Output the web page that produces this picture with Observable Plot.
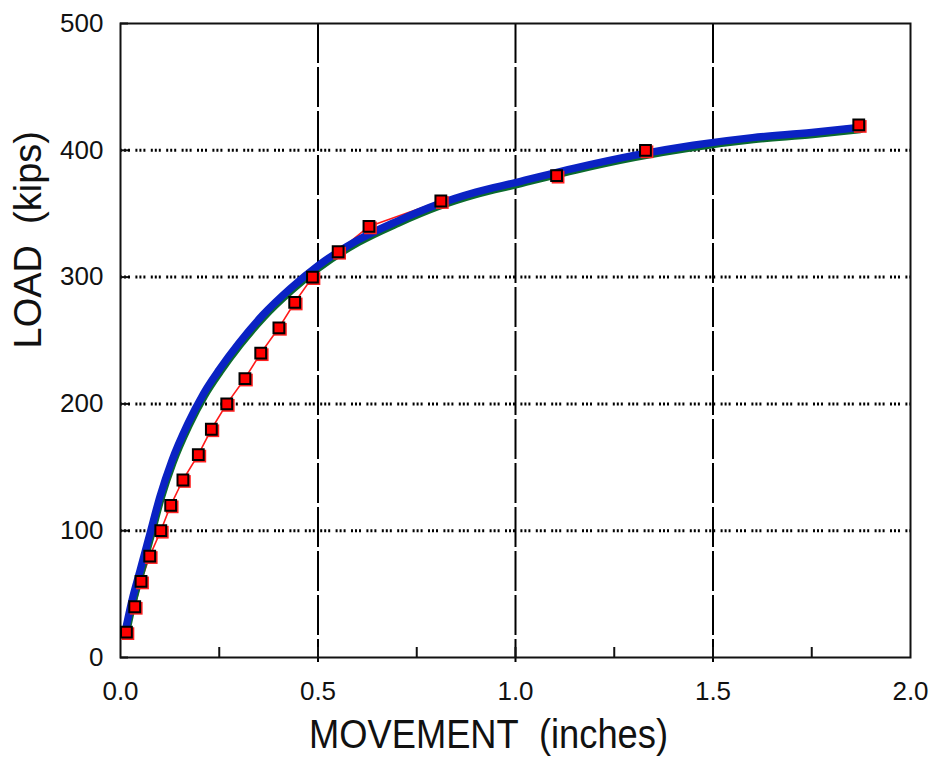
<!DOCTYPE html>
<html><head><meta charset="utf-8">
<script src="https://cdn.jsdelivr.net/npm/d3@7"></script>
<script src="https://cdn.jsdelivr.net/npm/@observablehq/plot@0.6"></script>
<style>body{margin:0;background:#fff}</style>
</head><body><div id="chart"></div>
<script>
// Measured load test (red squares)
const testMove = [0.015,0.036,0.052,0.074,0.102,0.127,0.158,0.197,0.230,0.269,0.315,0.355,0.401,0.441,0.486,0.551,0.629,0.811,1.104,1.329,1.869];
const testLoad = [20,40,60,80,100,120,140,160,180,200,220,240,260,280,300,320,340,360,380,400,420];
// Fitted curve (thick blue)
const fitMove = [0.015,0.03,0.05,0.075,0.10,0.13,0.17,0.21,0.25,0.30,0.36,0.43,0.50,0.60,0.70,0.80,0.90,1.00,1.15,1.30,1.45,1.60,1.75,1.87];
const fitLoad = [25,46,69,98,127,155,184,208,227,248,270,291,309,329,344,357,367,374.5,386,396,404,410,414,418];
// Axes
const xTicks = [0,0.5,1,1.5,2];
const xTickLabels = ["0.0","0.5","1.0","1.5","2.0"];
const xMinorTicks = [0.25,0.5,0.75,1,1.25,1.5,1.75];
const xGrid = [0.5,1,1.5];
const yTicks = [0,100,200,300,400,500];
const yGrid = [100,200,300,400];
const xTitle = "MOVEMENT\u00a0\u00a0(inches)";
const yTitle = "LOAD\u00a0\u00a0(kips)";

const test = testMove.map((m,i)=>({m, q: testLoad[i]}));
const fit = fitMove.map((m,i)=>({m, q: fitLoad[i]}));

const W = 931, H = 761, ML = 120, MR = 21, MT = 23, MB = 104;
const FW = W-ML-MR, FH = H-MT-MB;

const chart = Plot.plot({
  width: W, height: H,
  marginLeft: ML, marginRight: MR, marginTop: MT, marginBottom: MB,
  style: {fontFamily: "'Liberation Sans', Arial, sans-serif", color: "#111", background: "#fff"},
  x: {domain: [0,2]},
  y: {domain: [0,500]},
  marks: [
    Plot.gridY(yGrid, {stroke: "#000", strokeOpacity: 1, strokeWidth: 3, strokeDasharray: "2,2,2,2,2,5.4"}),
    Plot.gridX(xGrid, {stroke: "#000", strokeOpacity: 1, strokeWidth: 2, strokeDasharray: "40,4", insetBottom: -5}),
    Plot.tickX(xMinorTicks, {x: d=>d, stroke: "#111", strokeWidth: 2, insetTop: FH-10}),
    Plot.tickY(yTicks, {y: d=>d, stroke: "#111", strokeWidth: 2, insetRight: FW-8}),
    Plot.frame({stroke: "#111", strokeWidth: 2}),
    Plot.line(test, {x: "m", y: "q", stroke: "#ff1a1a", strokeWidth: 1.6}),
    Plot.line(fit, {x: "m", y: "q", stroke: "#0b6a2e", strokeWidth: 7.5, dx: 1, dy: 2, curve: "monotone-x"}),
    Plot.line(fit, {x: "m", y: "q", stroke: "#0a22c4", strokeWidth: 7.5, curve: "monotone-x"}),
    Plot.dot(test, {x: "m", y: "q", symbol: "square", r: 7.2, fill: "#ff2020", stroke: "none", dx: 1.5, dy: 1.5}),
    Plot.dot(test, {x: "m", y: "q", symbol: "square", r: 6.1, fill: "#ff0000", stroke: "#000", strokeWidth: 2}),
    Plot.axisX(xTicks, {tickSize: 0, tickPadding: 24, fontSize: 26, tickFormat: d => xTickLabels[xTicks.indexOf(d)], label: null}),
    Plot.axisY(yTicks, {tickSize: 0, tickPadding: 17, fontSize: 26, label: null}),
    Plot.text([xTitle], {frameAnchor: "bottom", dy: 78, dx: -27, fontSize: 40, lineAnchor: "middle", fill: "#111"}),
    Plot.text([yTitle], {frameAnchor: "left", rotate: -90, dx: -92, dy: 8, fontSize: 38, lineAnchor: "middle", fill: "#111"})
  ]
});
d3.select(chart).selectAll("text").filter(function(){ return this.textContent === xTitle; })
  .attr("textLength", 359).attr("lengthAdjust", "spacingAndGlyphs");
document.getElementById("chart").appendChild(chart);
</script>
</body></html>
